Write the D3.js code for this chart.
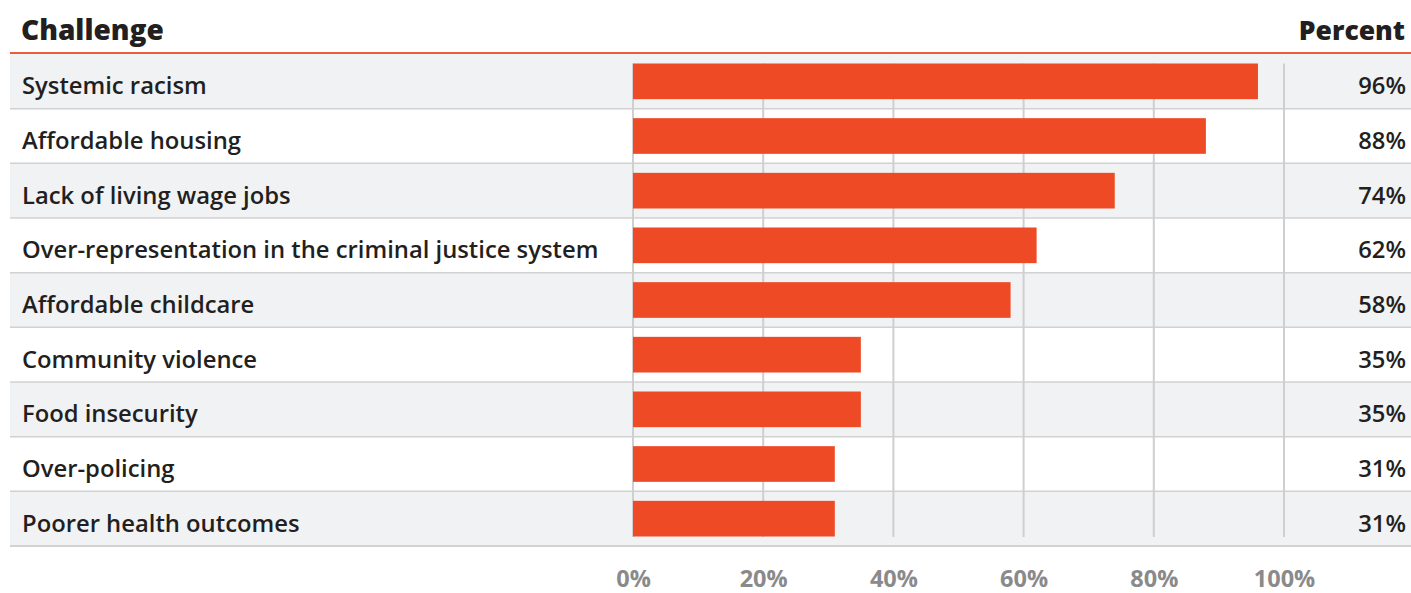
<!DOCTYPE html>
<html>
  <head>
    <meta charset="utf-8">
    <style>
    body {
      margin: 0;
      background: #fff;
    }
    text {
      font-family: "Source Sans Pro", "Open Sans", sans-serif;
    }
    </style>
    <script src="https://cdn.jsdelivr.net/npm/d3@7"></script>
  </head>
  <body>
    <script>
    // data
    var challenges = [
      "Systemic racism",
      "Affordable housing",
      "Lack of living wage jobs",
      "Over-representation in the criminal justice system",
      "Affordable childcare",
      "Community violence",
      "Food insecurity",
      "Over-policing",
      "Poorer health outcomes"
    ];
    var percents = [96, 88, 74, 62, 58, 35, 35, 31, 31];
    var tickValues = [0, 20, 40, 60, 80, 100];

    var width = 1411, height = 593;

    var svg = d3.select("body").append("svg")
        .attr("width", width)
        .attr("height", height);

    var x = d3.scaleLinear()
        .domain([0, 100])
        .range([633, 1284]);

    var y = d3.scaleBand()
        .domain(challenges)
        .range([54, 546])
        .paddingInner(0)
        .paddingOuter(0);

    var barPad = 9.5;

    // row backgrounds
    svg.selectAll(".row")
      .data(challenges)
      .enter().append("rect")
        .attr("class", "row")
        .attr("x", 10)
        .attr("y", function(d) { return y(d); })
        .attr("width", width - 10)
        .attr("height", y.bandwidth())
        .style("fill", function(d, i) { return i % 2 == 0 ? "#f1f2f4" : "#ffffff"; });

    // row separators
    svg.selectAll(".sep")
      .data(challenges)
      .enter().append("line")
        .attr("class", "sep")
        .attr("x1", 10)
        .attr("x2", width)
        .attr("y1", function(d) { return y(d) + y.bandwidth(); })
        .attr("y2", function(d) { return y(d) + y.bandwidth(); })
        .style("stroke", "#d2d2d2")
        .style("stroke-width", function(d, i) { return i == challenges.length - 1 ? 2 : 1.5; });

    // gridlines
    svg.selectAll(".grid")
      .data(tickValues)
      .enter().append("line")
        .attr("class", "grid")
        .attr("x1", function(d) { return x(d); })
        .attr("x2", function(d) { return x(d); })
        .attr("y1", y(challenges[0]) + barPad)
        .attr("y2", y(challenges[challenges.length - 1]) + y.bandwidth() - barPad + 0.5)
        .style("stroke", "#cfcfcf")
        .style("stroke-width", 2);

    // bars
    svg.selectAll(".bar")
      .data(percents)
      .enter().append("rect")
        .attr("class", "bar")
        .attr("x", x(0))
        .attr("y", function(d, i) { return y(challenges[i]) + barPad; })
        .attr("width", function(d) { return x(d) - x(0); })
        .attr("height", y.bandwidth() - 2 * barPad)
        .style("fill", "#ee4a25");

    // labels
    svg.selectAll(".label")
      .data(challenges)
      .enter().append("text")
        .attr("class", "label")
        .attr("x", 22)
        .attr("y", function(d) { return y(d) + y.bandwidth() / 2 + 13; })
        .style("font-size", "23.8px")
        .style("font-weight", 600)
        .style("fill", "#231f20")
        .text(function(d) { return d; });

    // values
    svg.selectAll(".value")
      .data(percents)
      .enter().append("text")
        .attr("class", "value")
        .attr("x", 1406)
        .attr("y", function(d, i) { return y(challenges[i]) + y.bandwidth() / 2 + 13; })
        .attr("text-anchor", "end")
        .style("font-size", "23.8px")
        .style("font-weight", 600)
        .style("fill", "#231f20")
        .text(function(d) { return d + "%"; });

    // header
    svg.append("text")
        .attr("x", 21)
        .attr("y", 40)
        .style("font-size", "28px")
        .style("font-weight", 800)
        .style("fill", "#231f20")
        .text("Challenge");

    svg.append("text")
        .attr("x", 1405)
        .attr("y", 40)
        .attr("text-anchor", "end")
        .style("font-size", "26.5px")
        .style("font-weight", 800)
        .style("fill", "#231f20")
        .text("Percent");

    svg.append("line")
        .attr("x1", 10)
        .attr("x2", width)
        .attr("y1", 53)
        .attr("y2", 53)
        .style("stroke", "#ef5a3a")
        .style("stroke-width", 2);

    // x axis
    var xAxis = d3.axisBottom(x)
        .tickValues(tickValues)
        .tickSize(0)
        .tickPadding(0)
        .tickFormat(function(d) { return d + "%"; });

    var ax = svg.append("g")
        .attr("transform", "translate(0,570)")
        .call(xAxis);
    ax.select(".domain").remove();
    ax.selectAll("text")
        .style("font-family", "'Source Sans Pro', 'Open Sans', sans-serif")
        .style("font-size", "23.5px")
        .style("font-weight", 700)
        .style("fill", "#8a8a8a");
    </script>
  </body>
</html>
